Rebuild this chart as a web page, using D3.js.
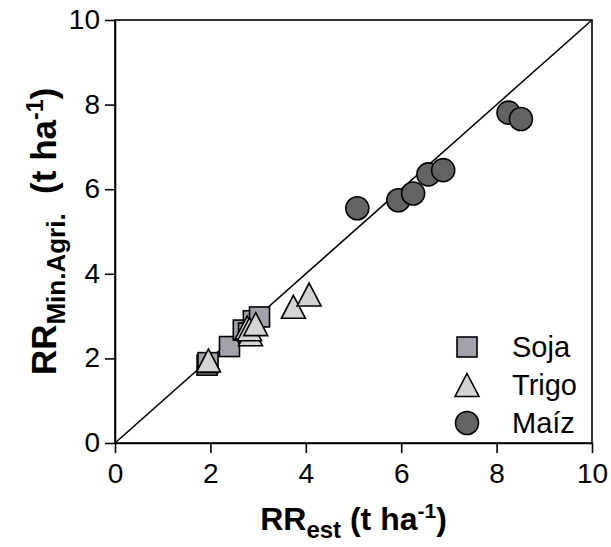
<!DOCTYPE html>
<html>
<head>
<meta charset="utf-8">
<script src="https://cdn.jsdelivr.net/npm/d3@7"></script>
<style>
  body { margin: 0; background: #fff; }
  svg { display: block; font-family: "Liberation Sans", Arial, sans-serif; }
</style>
</head>
<body>
<div id="chart"></div>
<script>
// Data: [RR_est, RR_Min.Agri.]
const soja = [[1.93, 1.84], [1.95, 1.90], [2.40, 2.28], [2.69, 2.67], [2.80, 2.60], [2.90, 2.89], [3.03, 2.98]];
const trigo = [[1.96, 1.95], [2.77, 2.73], [2.84, 2.57], [2.82, 2.69], [2.95, 2.81], [3.74, 3.22], [4.07, 3.51]];
const maiz = [[5.08, 5.55], [5.94, 5.74], [6.25, 5.90], [6.57, 6.35], [6.88, 6.45], [8.25, 7.81], [8.51, 7.66]];
const xTicks = [0, 2, 4, 6, 8, 10];
const yTicks = [0, 2, 4, 6, 8, 10];
const legendLabels = ['Soja', 'Trigo', 'Maíz'];

const width = 611;
const height = 547;
const margin = { top: 20, right: 19, bottom: 104, left: 115 };

const svg = d3.select('#chart')
    .append('svg')
    .attr('width', width)
    .attr('height', height);

const x = d3.scaleLinear().domain([0, 10]).range([margin.left, width - margin.right]);
const y = d3.scaleLinear().domain([0, 10]).range([height - margin.bottom, margin.top]);

// Frame
svg.append('rect')
    .attr('x', x(0)).attr('y', y(10))
    .attr('width', x(10) - x(0)).attr('height', y(0) - y(10))
    .attr('fill', 'none').attr('stroke', '#000').attr('stroke-width', 1.6);

// Axes
const xAxis = svg.append('g')
    .attr('transform', `translate(0,${y(0)})`)
    .call(d3.axisBottom(x).tickValues(xTicks).tickSize(10).tickPadding(10).tickSizeOuter(0));
const yAxis = svg.append('g')
    .attr('transform', `translate(${x(0)},0)`)
    .call(d3.axisLeft(y).tickValues(yTicks).tickSize(10).tickPadding(5).tickSizeOuter(0));

[xAxis, yAxis].forEach(a => {
    a.select('.domain').attr('stroke-width', 1.6);
    a.selectAll('.tick line').attr('stroke-width', 1.6);
    a.selectAll('.tick text')
        .attr('font-size', 28)
        .attr('font-family', '"Liberation Sans", Arial, sans-serif')
        .attr('fill', '#000');
});
yAxis.selectAll('.tick text').attr('dy', '0.3em');

// 1:1 line
svg.append('line')
    .attr('x1', x(0)).attr('y1', y(0))
    .attr('x2', x(10)).attr('y2', y(10))
    .attr('stroke', '#000').attr('stroke-width', 1.6);

// Marker helpers
const sq = 20;
function trianglePath(cx, cy) {
    const hw = 12, hh = 11.5;
    return `M${cx},${cy - hh}L${cx + hw},${cy + hh}L${cx - hw},${cy + hh}Z`;
}

const colSoja = '#a2a2aa';
const colTrigo = '#d4d4d4';
const colMaiz = '#636363';

svg.append('g').selectAll('rect')
    .data(soja).enter().append('rect')
    .attr('x', d => x(d[0]) - sq / 2).attr('y', d => y(d[1]) - sq / 2)
    .attr('width', sq).attr('height', sq)
    .attr('fill', colSoja).attr('stroke', '#000').attr('stroke-width', 1.6);

svg.append('g').selectAll('path')
    .data(trigo).enter().append('path')
    .attr('d', d => trianglePath(x(d[0]), y(d[1])))
    .attr('fill', colTrigo).attr('stroke', '#000').attr('stroke-width', 1.6)
    .attr('stroke-linejoin', 'miter');

svg.append('g').selectAll('circle')
    .data(maiz).enter().append('circle')
    .attr('cx', d => x(d[0])).attr('cy', d => y(d[1]))
    .attr('r', 11.5)
    .attr('fill', colMaiz).attr('stroke', '#000').attr('stroke-width', 1.6);

// Legend
const legend = svg.append('g').attr('transform', 'translate(467,347)');
const rowH = 38;
legend.append('rect')
    .attr('x', -10).attr('y', -10).attr('width', 20).attr('height', 20)
    .attr('fill', colSoja).attr('stroke', '#000').attr('stroke-width', 1.6);
legend.append('path')
    .attr('d', trianglePath(0, rowH))
    .attr('fill', colTrigo).attr('stroke', '#000').attr('stroke-width', 1.6);
legend.append('circle')
    .attr('cx', 0).attr('cy', rowH * 2).attr('r', 11.5)
    .attr('fill', colMaiz).attr('stroke', '#000').attr('stroke-width', 1.6);
legend.selectAll('text.lab')
    .data(legendLabels).enter().append('text')
    .attr('class', 'lab')
    .attr('x', 45).attr('y', (d, i) => i * rowH + 10)
    .attr('font-size', 29)
    .text(d => d);

// Axis titles
const xt = svg.append('text')
    .attr('x', (x(0) + x(10)) / 2).attr('y', 530)
    .attr('text-anchor', 'middle')
    .attr('font-weight', 'bold').attr('font-size', 32);
xt.append('tspan').text('RR');
xt.append('tspan').attr('font-size', 24).attr('dy', 8).text('est');
xt.append('tspan').attr('dy', -8).text(' (t ha');
xt.append('tspan').attr('font-size', 21).attr('dy', -12).text('-1');
xt.append('tspan').attr('dy', 12).text(')');

const yt = svg.append('text')
    .attr('transform', `translate(56,${(y(0) + y(10)) / 2}) rotate(-90)`)
    .attr('text-anchor', 'middle')
    .attr('font-weight', 'bold').attr('font-size', 35);
yt.append('tspan').text('RR');
yt.append('tspan').attr('font-size', 26).attr('dy', 9).text('Min.Agri.');
yt.append('tspan').attr('dy', -9).text('\u00a0 (t ha');
yt.append('tspan').attr('font-size', 23).attr('dy', -13).text('-1');
yt.append('tspan').attr('dy', 13).text(')');
</script>
</body>
</html>
